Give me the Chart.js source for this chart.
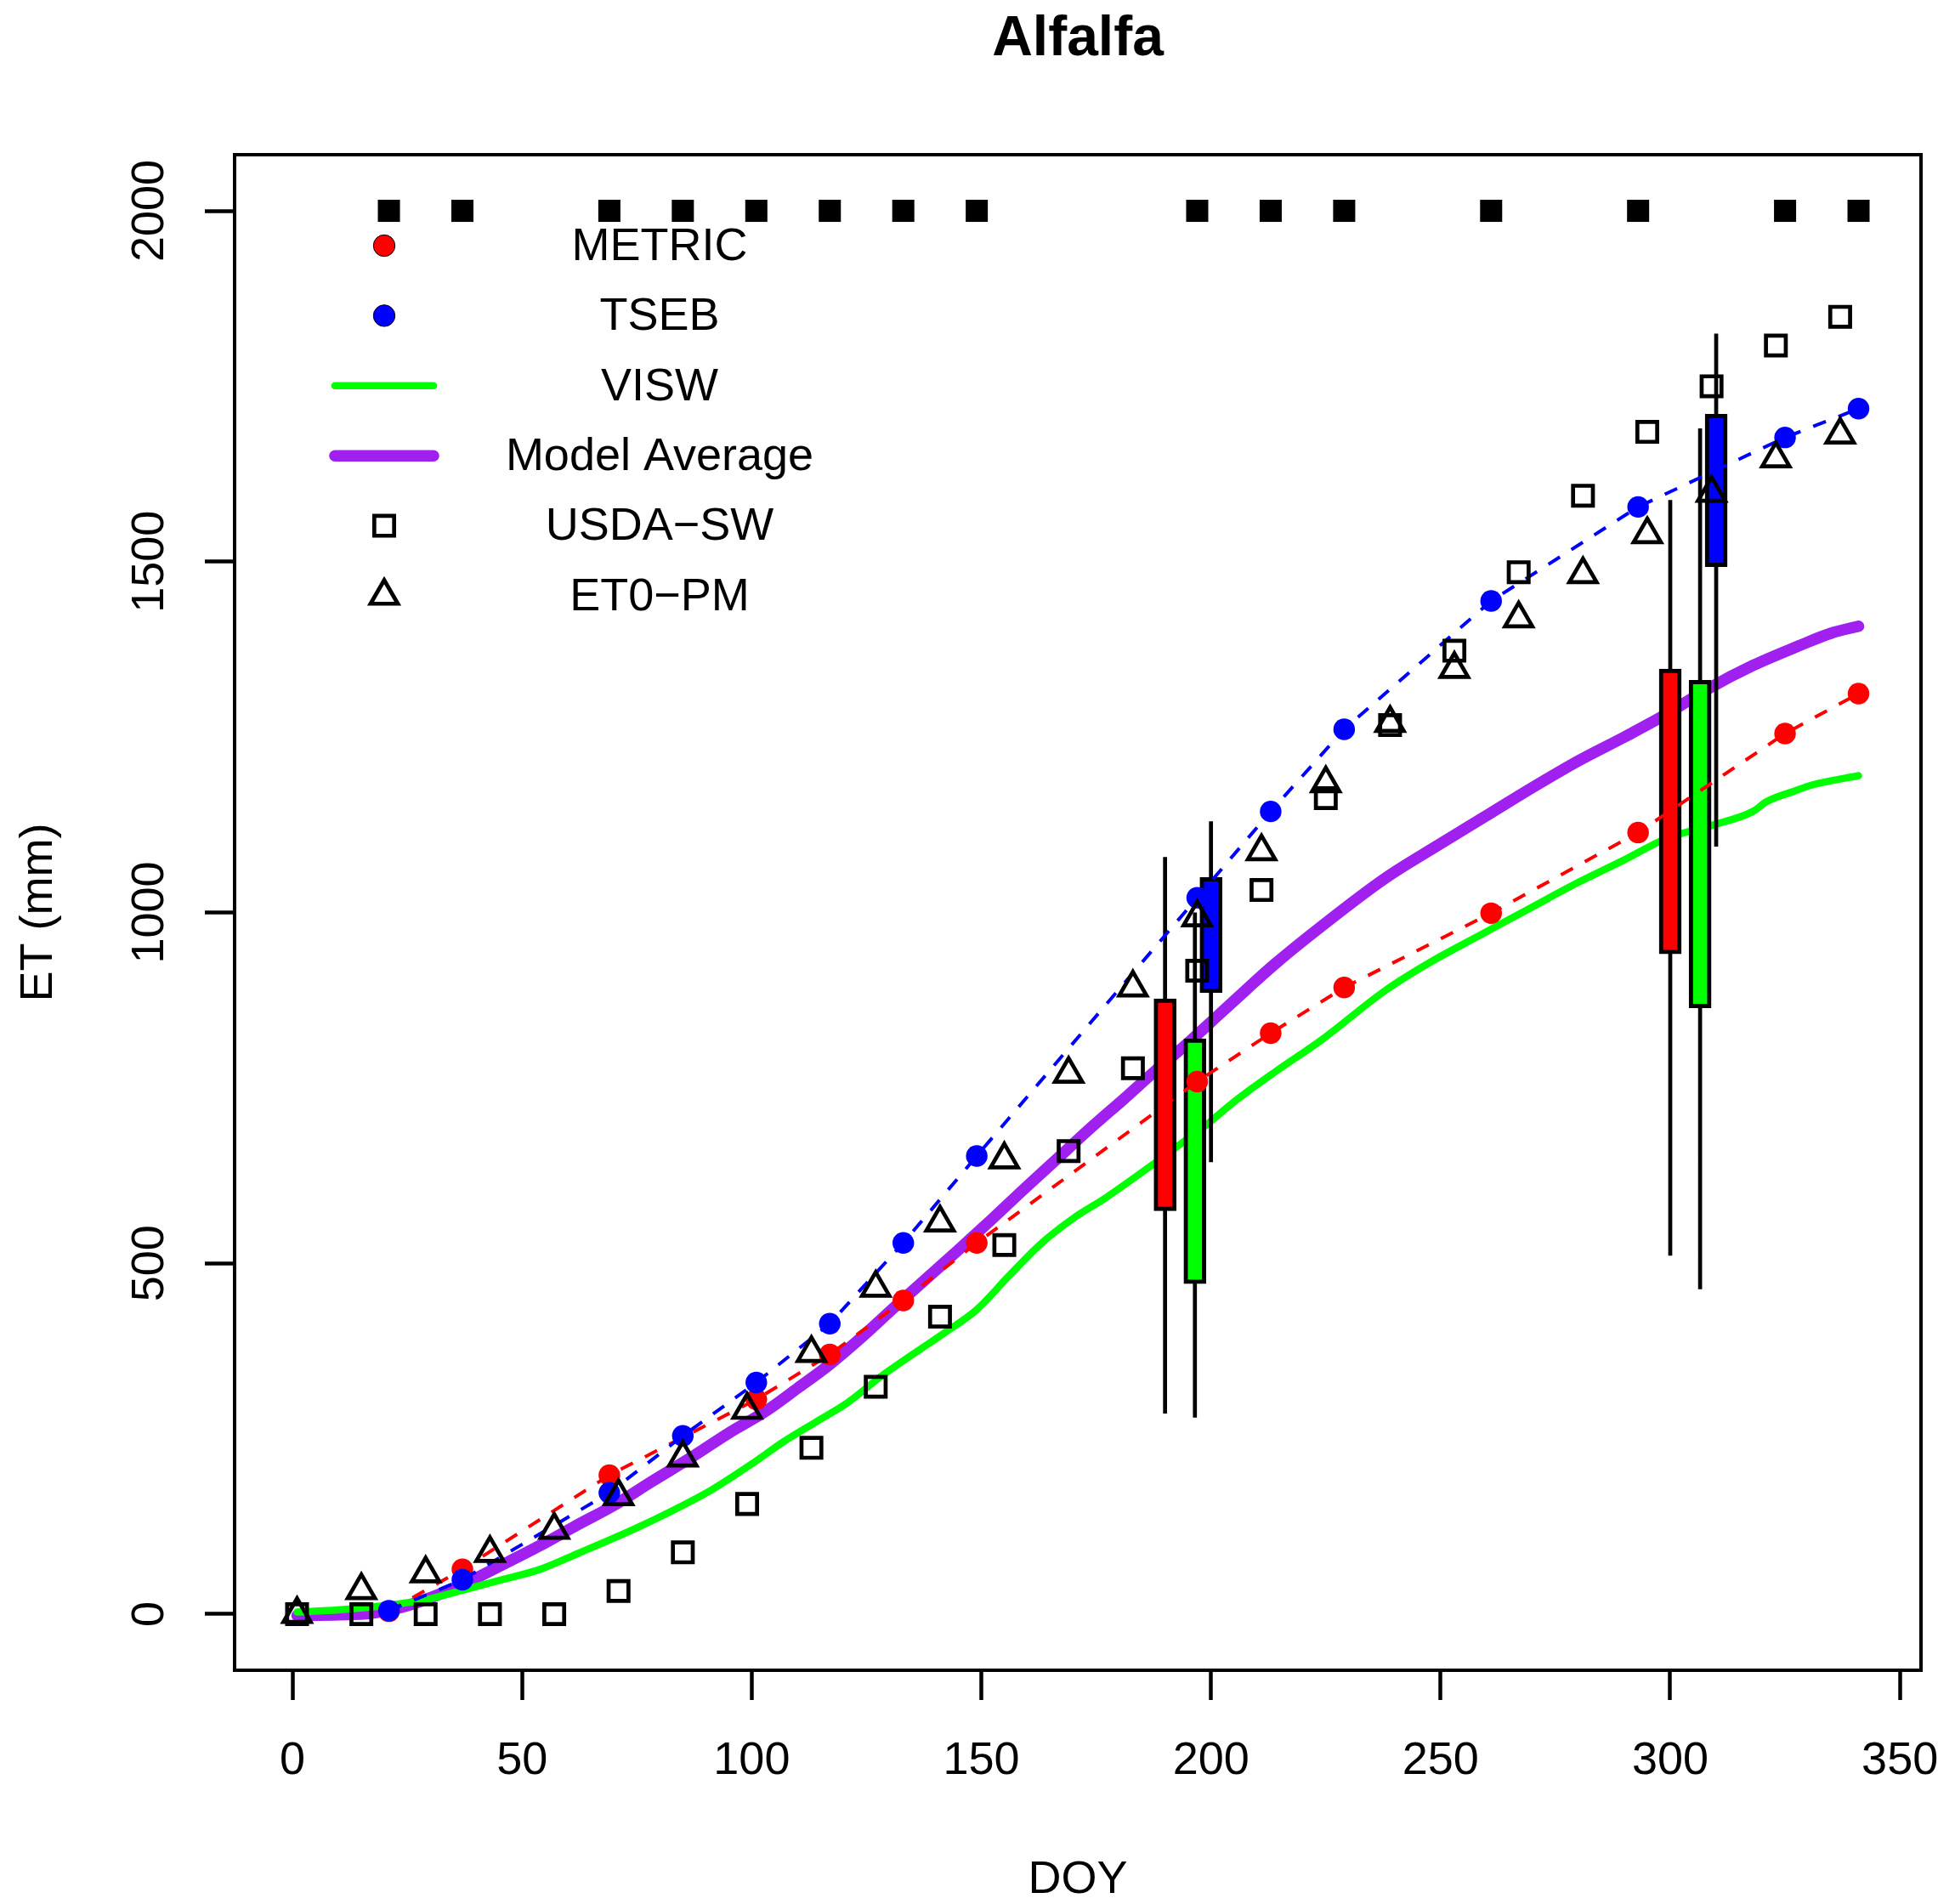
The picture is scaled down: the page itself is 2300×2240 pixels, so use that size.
<!DOCTYPE html>
<html lang="en">
<head>
    <meta charset="UTF-8">
    <title>Alfalfa</title>
    <style>
        body {
            margin: 0;
            padding: 0;
            background-color: #ffffff;
        }
        #grafico {
            display: block;
        }
    </style>
</head>
<body>

<canvas id="grafico" width="2300" height="2240"></canvas>

<script src="https://cdn.jsdelivr.net/npm/chart.js"></script>
<script>
    // tick labels
    const xTicks = [0, 50, 100, 150, 200, 250, 300, 350];
    const yTicks = [0, 500, 1000, 1500, 2000];

    // satellite overpass days (black squares along the top)
    const overpassDoy = [21, 37, 69, 85, 101, 117, 133, 149, 197, 213, 229, 261, 293, 325, 341];
    const overpassEt = [2000, 2000, 2000, 2000, 2000, 2000, 2000, 2000, 2000, 2000, 2000, 2000, 2000, 2000, 2000];

    // METRIC
    const metricDoy = [21, 37, 69, 101, 117, 133, 149, 197, 213, 229, 261, 293, 325, 341];
    const metricEt = [4, 64, 198, 306, 370, 447, 529, 759, 828, 893, 999, 1114, 1255, 1312];

    // TSEB
    const tsebDoy = [21, 37, 69, 85, 101, 117, 133, 149, 197, 213, 229, 261, 293, 325, 341];
    const tsebEt = [5, 49, 173, 254, 330, 414, 529, 653, 1021, 1144, 1261, 1444, 1578, 1677, 1718];

    // VISW (daily curve, read at selected days)
    const viswDoy = [1, 10, 20, 30, 37, 45, 54, 62, 74, 82, 91, 100, 107, 114, 121, 128, 135, 142, 149, 156,
        163, 170, 177, 188, 194, 198, 205, 214, 224, 238, 248, 259, 270, 280, 290, 299, 309, 318, 321, 327, 331, 341];
    const viswEt = [3, 6, 12, 22, 34, 48, 64, 86, 120, 145, 176, 214, 246, 274, 302, 338, 370, 401, 434, 482,
        528, 564, 593, 644, 673, 692, 730, 773, 818, 889, 930, 969, 1008, 1043, 1075, 1105, 1124, 1144, 1158, 1173, 1182, 1195];

    // Model Average
    const mediaDoy = [1, 10, 17, 25, 37, 45, 54, 62, 70, 78, 87, 95, 103, 110, 117, 124, 131, 138, 145, 149, 152,
        159, 166, 174, 181, 188, 195, 202, 208, 214, 224, 238, 250, 261, 270, 280, 290, 299, 308, 318, 328, 335, 341];
    const mediaEt = [-2, -1, 1, 12, 42, 68, 98, 127, 155, 188, 224, 258, 289, 322, 356, 395, 437, 478, 519, 543, 561,
        604, 646, 694, 734, 775, 814, 856, 892, 927, 980, 1049, 1098, 1142, 1178, 1216, 1250, 1282, 1318, 1352, 1380, 1398, 1408];

    // USDA-SW and ET0-PM
    const lisimetroDoy = [1, 15, 29, 43, 57, 71, 85, 99, 113, 127, 141, 155, 169, 183, 197, 211, 225, 239, 253, 267, 281, 295, 309, 323, 337];
    const usdaEt = [0, 0, 0, 0, 0, 33, 88, 157, 237, 324, 424, 526, 660, 778, 917, 1032, 1163, 1267, 1373, 1485, 1594, 1685, 1750, 1808, 1849];
    const et0Et = [0, 34, 58, 87, 120, 168, 223, 291, 372, 465, 558, 648, 770, 893, 993, 1087, 1184, 1270, 1347, 1419, 1482, 1539, 1598, 1647, 1681];

    // boxes
    const caixaDoy = [190, 196.5, 200, 300, 306.5, 310];
    const caixaBaixo = [575, 471, 886, 941, 864, 1493];
    const caixaAlto = [877, 820, 1050, 1347, 1331, 1710];
    const bigodeBaixo = [286, 280, 644, 511, 463, 1094];
    const bigodeAlto = [1079, 1000, 1130, 1588, 1690, 1825];
    const caixaCores = ['#FF0000', '#00FF00', '#0000FF', '#FF0000', '#00FF00', '#0000FF'];

    const legendaNomes = ['METRIC', 'TSEB', 'VISW', 'Model Average', 'USDA\u2212SW', 'ET0\u2212PM'];

    const pares = (xs, ys) => xs.map((x, i) => ({ x: x, y: ys[i] }));

    const bigodes = [];
    caixaDoy.forEach((x, i) => {
        bigodes.push({ x: x, y: bigodeBaixo[i] }, { x: x, y: bigodeAlto[i] }, { x: x, y: null });
    });

    Chart.defaults.font.family = "'Liberation Sans', Arial, Helvetica, sans-serif";
    Chart.defaults.color = '#000';

    function desenharSimbolo(ctx, ds, x, y) {
        ctx.save();
        if (ds.pointRadius === 0) {
            ctx.strokeStyle = ds.borderColor;
            ctx.lineWidth = ds.borderWidth;
            ctx.lineCap = 'round';
            ctx.beginPath();
            ctx.moveTo(x - 58, y);
            ctx.lineTo(x + 58, y);
            ctx.stroke();
        } else {
            const r = ds.pointRadius;
            ctx.fillStyle = ds.pointBackgroundColor;
            ctx.strokeStyle = ds.pointBorderColor || '#000';
            ctx.lineWidth = ds.pointBorderWidth || 0;
            ctx.beginPath();
            if (ds.pointStyle === 'rect') {
                const s = Math.SQRT1_2 * r;
                ctx.rect(x - s, y - s, 2 * s, 2 * s);
            } else if (ds.pointStyle === 'triangle') {
                ctx.moveTo(x, y - r);
                ctx.lineTo(x + r * Math.sin(2 * Math.PI / 3), y + r / 2);
                ctx.lineTo(x - r * Math.sin(2 * Math.PI / 3), y + r / 2);
                ctx.closePath();
            } else {
                ctx.arc(x, y, r, 0, Math.PI * 2);
            }
            ctx.fill();
            if (ctx.lineWidth > 0) ctx.stroke();
        }
        ctx.restore();
    }

    const legendaR = {
        id: 'legendaR',
        afterDraw(chart) {
            const { ctx, chartArea } = chart;
            const xSimbolo = chartArea.left + 176;
            const xTexto = chartArea.left + 500;
            legendaNomes.forEach((nome, i) => {
                const y = chartArea.top + 107 + i * 82.4;
                const ds = chart.data.datasets.find(d => d.label === nome);
                desenharSimbolo(ctx, ds, xSimbolo, y);
                ctx.save();
                ctx.font = "54px 'Liberation Sans', Arial, sans-serif";
                ctx.fillStyle = '#000';
                ctx.textAlign = 'center';
                ctx.textBaseline = 'middle';
                ctx.fillText(nome, xTexto, y + 2);
                ctx.restore();
            });
        }
    };

    const moldura = {
        id: 'moldura',
        afterDraw(chart) {
            const { ctx, chartArea: a } = chart;
            ctx.save();
            ctx.strokeStyle = '#000';
            ctx.lineWidth = 4;
            ctx.strokeRect(a.left, a.top, a.right - a.left, a.bottom - a.top);
            ctx.restore();
        }
    };

    const eixoGrid = {
        drawOnChartArea: false,
        drawTicks: true,
        tickLength: 35,
        tickWidth: 4.5,
        tickColor: '#000',
        offset: false
    };

    new Chart(document.getElementById('grafico').getContext('2d'), {
        type: 'line',
        data: {
            datasets: [
                {
                    label: 'Overpass',
                    data: pares(overpassDoy, overpassEt),
                    showLine: false,
                    pointStyle: 'rect',
                    pointRadius: 18.4,
                    pointBorderWidth: 0,
                    pointBackgroundColor: '#000',
                    order: 1
                },
                {
                    label: 'ET0\u2212PM',
                    data: pares(lisimetroDoy, et0Et),
                    showLine: false,
                    pointStyle: 'triangle',
                    pointRadius: 18.5,
                    pointBorderWidth: 4.7,
                    pointBorderColor: '#000',
                    pointBackgroundColor: 'rgba(0,0,0,0)',
                    order: 2
                },
                {
                    label: 'USDA\u2212SW',
                    data: pares(lisimetroDoy, usdaEt),
                    showLine: false,
                    pointStyle: 'rect',
                    pointRadius: 16.5,
                    pointBorderWidth: 4.7,
                    pointBorderColor: '#000',
                    pointBackgroundColor: 'rgba(0,0,0,0)',
                    order: 3
                },
                {
                    label: 'TSEB',
                    data: pares(tsebDoy, tsebEt),
                    borderColor: '#0000FF',
                    borderWidth: 4,
                    borderDash: [16, 16],
                    pointStyle: 'circle',
                    pointRadius: 12.7,
                    pointBorderWidth: 0,
                    pointBackgroundColor: '#0000FF',
                    tension: 0,
                    order: 4
                },
                {
                    label: 'METRIC',
                    data: pares(metricDoy, metricEt),
                    borderColor: '#FF0000',
                    borderWidth: 4,
                    borderDash: [16, 16],
                    pointStyle: 'circle',
                    pointRadius: 12.7,
                    pointBorderWidth: 0,
                    pointBackgroundColor: '#FF0000',
                    tension: 0,
                    order: 5
                },
                {
                    type: 'bar',
                    label: 'Caixas',
                    data: caixaDoy.map((x, i) => ({ x: x, y: [caixaBaixo[i], caixaAlto[i]] })),
                    backgroundColor: caixaCores,
                    borderColor: '#000',
                    borderWidth: 5,
                    borderSkipped: false,
                    barThickness: 26,
                    grouped: false,
                    order: 6
                },
                {
                    label: 'Bigodes',
                    data: bigodes,
                    borderColor: '#000',
                    borderWidth: 4.7,
                    pointRadius: 0,
                    spanGaps: false,
                    order: 7
                },
                {
                    label: 'VISW',
                    data: pares(viswDoy, viswEt),
                    borderColor: '#00FF00',
                    borderWidth: 8.5,
                    borderCapStyle: 'round',
                    borderJoinStyle: 'round',
                    pointRadius: 0,
                    cubicInterpolationMode: 'monotone',
                    order: 8
                },
                {
                    label: 'Model Average',
                    data: pares(mediaDoy, mediaEt),
                    borderColor: '#A020F0',
                    borderWidth: 13.5,
                    borderCapStyle: 'round',
                    borderJoinStyle: 'round',
                    pointRadius: 0,
                    cubicInterpolationMode: 'monotone',
                    order: 9
                }
            ]
        },
        options: {
            responsive: false,
            devicePixelRatio: 1,
            animation: false,
            events: [],
            layout: {
                padding: { left: 0, right: 40, top: 0, bottom: 0 }
            },
            scales: {
                x: {
                    type: 'linear',
                    position: 'bottom',
                    min: -12.6,
                    max: 354.6,
                    offset: false,
                    afterBuildTicks: s => { s.ticks = xTicks.map(v => ({ value: v })); },
                    afterFit: s => { s.height = 275; s.paddingLeft = 0; s.paddingRight = 0; },
                    grid: eixoGrid,
                    border: { display: false },
                    ticks: {
                        font: { size: 54, lineHeight: 1 },
                        padding: 45,
                        maxRotation: 0,
                        minRotation: 0,
                        autoSkip: false,
                        callback: v => String(v)
                    },
                    title: {
                        display: true,
                        text: 'DOY',
                        font: { size: 54, lineHeight: 1 },
                        padding: { top: 0, bottom: 1 }
                    }
                },
                y: {
                    type: 'linear',
                    position: 'left',
                    min: -80,
                    max: 2080,
                    afterBuildTicks: s => { s.ticks = yTicks.map(v => ({ value: v })); },
                    afterFit: s => { s.width = 276; s.paddingTop = 0; s.paddingBottom = 0; },
                    grid: eixoGrid,
                    border: { display: false },
                    ticks: {
                        font: { size: 54, lineHeight: 1 },
                        padding: 4,
                        minRotation: 90,
                        maxRotation: 90,
                        crossAlign: 'center',
                        autoSkip: false,
                        callback: v => String(v)
                    },
                    title: {
                        display: true,
                        text: 'ET (mm)',
                        font: { size: 54, lineHeight: 1 },
                        padding: { top: 19, bottom: 0 }
                    }
                }
            },
            plugins: {
                legend: { display: false },
                tooltip: { enabled: false },
                title: {
                    display: true,
                    text: 'Alfalfa',
                    fullSize: false,
                    font: { size: 66, weight: 'bold', lineHeight: 1 },
                    color: '#000',
                    padding: { top: 14, bottom: 102 }
                }
            }
        },
        plugins: [legendaR, moldura]
    });
</script>

</body>
</html>
